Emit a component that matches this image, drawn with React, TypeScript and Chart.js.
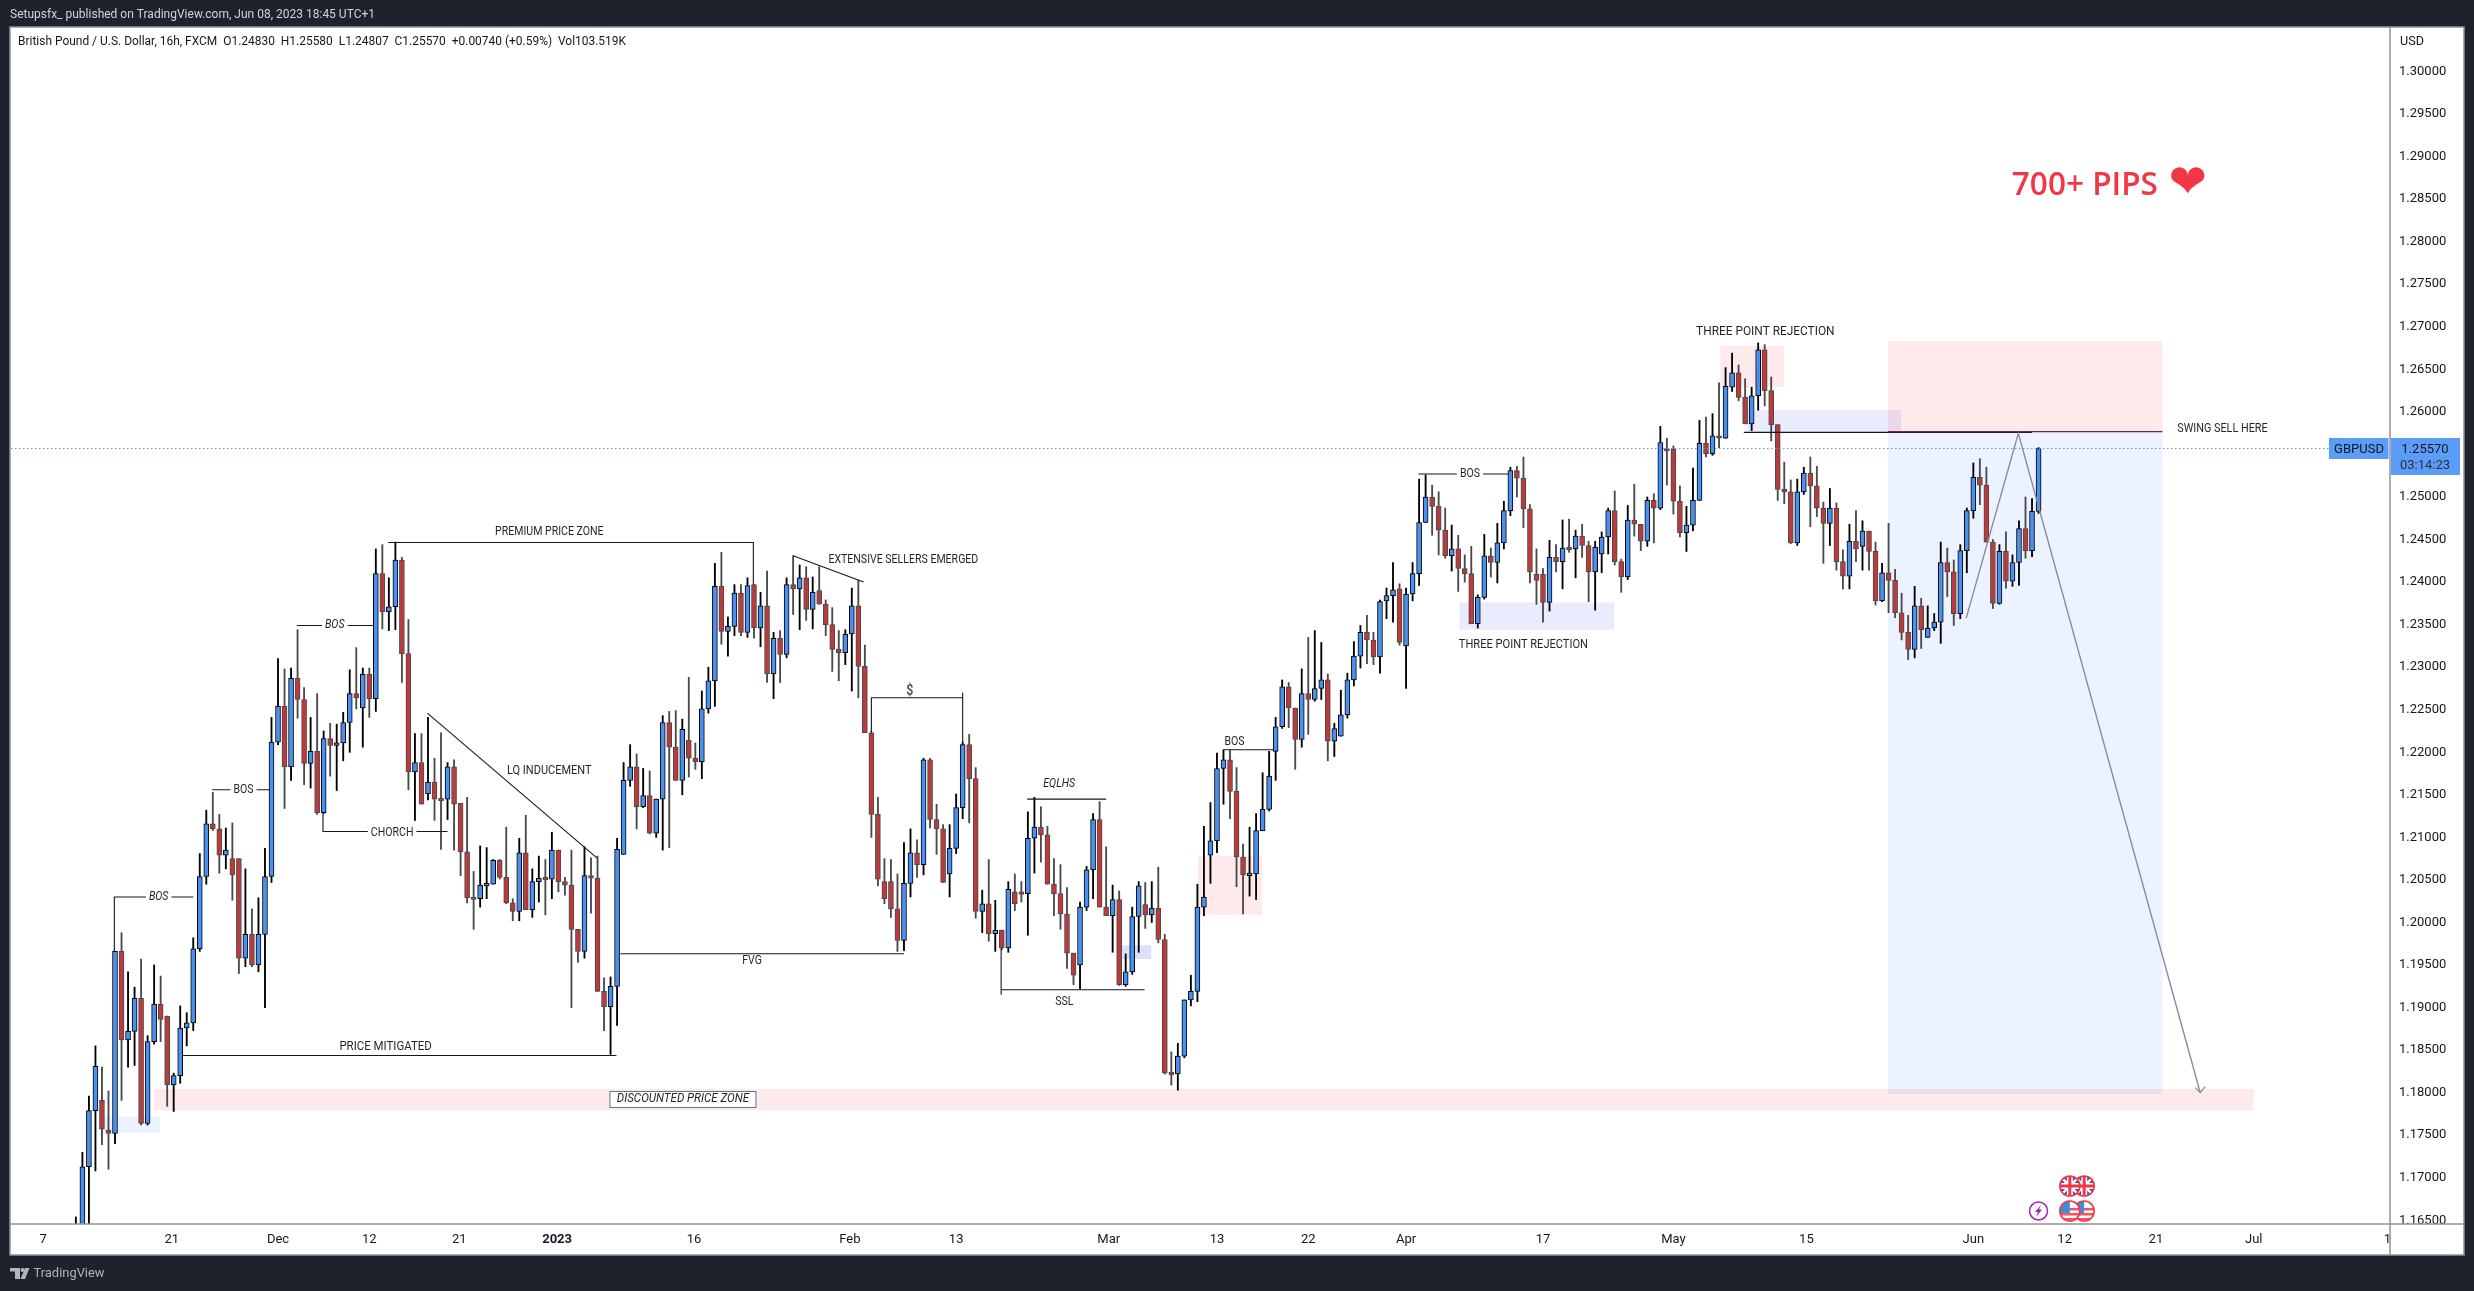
import { useEffect, useRef } from "react";
import Chart from "chart.js/auto";

// 16h GBPUSD candles
const opens = [
  1.1600,1.1640,1.1713,1.1779,1.1791,1.1756,1.1752,1.1966,1.1862,1.1872,
  1.1911,1.1764,1.1860,1.1904,1.1890,1.1809,1.1820,1.1876,1.1882,1.1969,
  1.2054,1.2116,1.2110,1.2079,1.2075,1.2075,1.1958,1.1986,1.1950,1.1986,
  1.2054,1.2212,1.2254,1.2183,1.2287,1.2262,1.2187,1.2201,1.2129,1.2216,
  1.2208,1.2211,1.2235,1.2269,1.2252,1.2292,1.2263,1.2410,1.2365,1.2371,
  1.2426,1.2316,1.2177,1.2188,1.2151,1.2165,1.2146,1.2145,1.2183,1.2140,
  1.2083,1.2030,1.2028,1.2043,1.2045,1.2073,1.2053,1.2023,1.2013,1.2082,
  1.2015,1.2048,1.2053,1.2051,1.2085,1.2048,1.2044,1.1992,1.1966,1.2055,
  1.2052,1.1919,1.1901,1.1925,1.2080,1.2167,1.2183,1.2136,1.2149,1.2105,
  1.2145,1.2235,1.2206,1.2167,1.2214,1.2193,1.2189,1.2251,1.2284,1.2395,
  1.2342,1.2348,1.2387,1.2341,1.2397,1.2346,1.2372,1.2292,1.2334,1.2315,
  1.2397,1.2392,1.2405,1.2368,1.2390,1.2374,1.2350,1.2321,1.2317,1.2339,
  1.2372,1.2301,1.2223,1.2127,1.2048,1.2048,1.2016,1.1979,1.2046,1.2082,
  1.2068,1.2191,1.2121,1.2110,1.2057,1.2087,1.2135,1.2209,1.2169,1.2013,
  1.2022,1.1987,1.1991,1.1970,1.2036,1.2036,1.2034,1.2099,1.2112,1.2103,
  1.2045,1.2034,1.2010,1.1964,1.1950,1.2018,1.2062,1.2121,1.2018,1.2008,
  1.2027,1.1927,1.1942,1.2007,1.2021,1.2009,1.2017,1.1980,1.1824,1.1822,
  1.1843,1.1909,1.1919,1.2018,1.2079,1.2096,1.2181,1.2191,1.2154,1.2077,
  1.2055,1.2057,1.2108,1.2133,1.2201,1.2230,1.2277,1.2252,1.2215,1.2269,
  1.2262,1.2275,1.2285,1.2213,1.2219,1.2244,1.2285,1.2313,1.2341,1.2332,
  1.2312,1.2378,1.2384,1.2392,1.2325,1.2386,1.2410,1.2470,1.2500,1.2489,
  1.2461,1.2431,1.2439,1.2416,1.2410,1.2351,1.2382,1.2431,1.2423,1.2446,
  1.2484,1.2531,1.2522,1.2486,1.2409,1.2409,1.2376,1.2429,1.2424,1.2441,
  1.2439,1.2454,1.2443,1.2412,1.2433,1.2453,1.2484,1.2424,1.2406,1.2473,
  1.2468,1.2448,1.2496,1.2487,1.2557,1.2556,1.2495,1.2458,1.2467,1.2496,
  1.2563,1.2551,1.2572,1.2569,1.2629,1.2646,1.2617,1.2586,1.2619,1.2673,
  1.2625,1.2585,1.2509,1.2506,1.2446,1.2506,1.2528,1.2513,1.2487,1.2469,
  1.2487,1.2424,1.2407,1.2448,1.2442,1.2460,1.2436,1.2378,1.2411,1.2402,
  1.2364,1.2341,1.2321,1.2372,1.2335,1.2346,1.2353,1.2423,1.2412,1.2363,
  1.2437,1.2484,1.2523,1.2514,1.2447,1.2375,1.2436,1.2401,1.2423,1.2463,
  1.2437,1.2483,
];
const closes = [
  1.1640,1.1713,1.1779,1.1831,1.1757,1.1752,1.1966,1.1862,1.1872,1.1911,
  1.1764,1.1860,1.1904,1.1886,1.1809,1.1820,1.1876,1.1882,1.1969,1.2054,
  1.2116,1.2110,1.2079,1.2085,1.2056,1.1958,1.1986,1.1950,1.1986,1.2054,
  1.2212,1.2254,1.2183,1.2287,1.2262,1.2187,1.2201,1.2129,1.2216,1.2208,
  1.2211,1.2235,1.2269,1.2264,1.2292,1.2263,1.2410,1.2365,1.2371,1.2426,
  1.2316,1.2177,1.2188,1.2139,1.2165,1.2145,1.2143,1.2183,1.2139,1.2083,
  1.2029,1.2027,1.2044,1.2046,1.2073,1.2053,1.2023,1.2013,1.2082,1.2015,
  1.2048,1.2052,1.2050,1.2085,1.2048,1.2044,1.1992,1.1966,1.2055,1.2052,
  1.1919,1.1901,1.1925,1.2086,1.2167,1.2183,1.2136,1.2149,1.2105,1.2145,
  1.2235,1.2206,1.2167,1.2227,1.2193,1.2189,1.2251,1.2284,1.2395,1.2342,
  1.2348,1.2387,1.2341,1.2396,1.2346,1.2372,1.2292,1.2334,1.2315,1.2397,
  1.2392,1.2405,1.2368,1.2388,1.2374,1.2350,1.2321,1.2317,1.2339,1.2372,
  1.2301,1.2223,1.2127,1.2051,1.2028,1.2016,1.1979,1.2046,1.2082,1.2068,
  1.2191,1.2121,1.2110,1.2047,1.2087,1.2135,1.2209,1.2169,1.2013,1.2022,
  1.1987,1.1991,1.1970,1.2039,1.2022,1.2033,1.2099,1.2112,1.2103,1.2045,
  1.2034,1.2010,1.1964,1.1938,1.2018,1.2062,1.2121,1.2018,1.2008,1.2027,
  1.1927,1.1942,1.2007,1.2043,1.2009,1.2017,1.1980,1.1823,1.1821,1.1843,
  1.1909,1.1919,1.2018,1.2030,1.2096,1.2181,1.2191,1.2154,1.2077,1.2056,
  1.2058,1.2108,1.2133,1.2172,1.2230,1.2277,1.2252,1.2215,1.2269,1.2262,
  1.2275,1.2285,1.2213,1.2228,1.2244,1.2285,1.2313,1.2341,1.2332,1.2312,
  1.2377,1.2384,1.2391,1.2329,1.2386,1.2410,1.2470,1.2500,1.2489,1.2461,
  1.2431,1.2439,1.2416,1.2410,1.2351,1.2382,1.2431,1.2423,1.2446,1.2484,
  1.2531,1.2522,1.2486,1.2412,1.2402,1.2376,1.2429,1.2424,1.2440,1.2438,
  1.2454,1.2443,1.2412,1.2441,1.2453,1.2484,1.2424,1.2406,1.2473,1.2468,
  1.2448,1.2496,1.2487,1.2564,1.2554,1.2495,1.2458,1.2467,1.2496,1.2563,
  1.2551,1.2572,1.2569,1.2630,1.2646,1.2617,1.2586,1.2619,1.2673,1.2625,
  1.2585,1.2509,1.2506,1.2446,1.2506,1.2528,1.2513,1.2487,1.2469,1.2487,
  1.2424,1.2407,1.2448,1.2439,1.2460,1.2436,1.2378,1.2411,1.2402,1.2364,
  1.2341,1.2321,1.2372,1.2344,1.2346,1.2353,1.2423,1.2412,1.2363,1.2437,
  1.2484,1.2523,1.2514,1.2447,1.2375,1.2436,1.2401,1.2423,1.2463,1.2437,
  1.2483,1.2557,
];
const highs = [
  1.1654,1.1730,1.1796,1.1855,1.1830,1.1802,1.1966,1.1988,1.1942,1.1924,
  1.1957,1.1867,1.1950,1.1937,1.1890,1.1823,1.1902,1.1894,1.1982,1.2081,
  1.2132,1.2153,1.2127,1.2111,1.2117,1.2075,1.2063,1.2016,1.2029,1.2087,
  1.2241,1.2310,1.2298,1.2299,1.2344,1.2276,1.2241,1.2269,1.2225,1.2234,
  1.2233,1.2247,1.2297,1.2323,1.2299,1.2299,1.2439,1.2444,1.2405,1.2447,
  1.2429,1.2356,1.2222,1.2222,1.2241,1.2193,1.2223,1.2188,1.2191,1.2140,
  1.2147,1.2060,1.2090,1.2088,1.2074,1.2074,1.2112,1.2028,1.2099,1.2126,
  1.2063,1.2078,1.2074,1.2106,1.2085,1.2053,1.2085,1.1992,1.2089,1.2076,
  1.2078,1.1935,1.1936,1.2099,1.2188,1.2209,1.2198,1.2181,1.2178,1.2145,
  1.2243,1.2248,1.2249,1.2239,1.2288,1.2211,1.2272,1.2300,1.2422,1.2435,
  1.2359,1.2397,1.2397,1.2405,1.2397,1.2388,1.2413,1.2341,1.2343,1.2405,
  1.2431,1.2420,1.2418,1.2406,1.2418,1.2379,1.2370,1.2343,1.2344,1.2393,
  1.2402,1.2326,1.2225,1.2147,1.2075,1.2074,1.2057,1.2094,1.2110,1.2097,
  1.2193,1.2193,1.2139,1.2115,1.2115,1.2151,1.2212,1.2221,1.2182,1.2038,
  1.2074,1.2026,1.1991,1.2048,1.2057,1.2048,1.2130,1.2147,1.2136,1.2113,
  1.2075,1.2068,1.2041,1.1964,1.2024,1.2066,1.2128,1.2142,1.2089,1.2044,
  1.2037,1.1963,1.2018,1.2048,1.2047,1.2048,1.2065,1.1986,1.1848,1.1858,
  1.1909,1.1938,1.2045,1.2113,1.2141,1.2199,1.2203,1.2203,1.2182,1.2092,
  1.2112,1.2128,1.2176,1.2201,1.2241,1.2285,1.2282,1.2252,1.2298,1.2335,
  1.2343,1.2329,1.2292,1.2234,1.2273,1.2293,1.2330,1.2349,1.2361,1.2341,
  1.2379,1.2393,1.2423,1.2398,1.2393,1.2423,1.2521,1.2526,1.2514,1.2506,
  1.2487,1.2467,1.2455,1.2432,1.2442,1.2385,1.2456,1.2440,1.2469,1.2495,
  1.2535,1.2536,1.2547,1.2491,1.2439,1.2416,1.2449,1.2444,1.2473,1.2474,
  1.2461,1.2468,1.2448,1.2448,1.2459,1.2487,1.2507,1.2427,1.2490,1.2515,
  1.2468,1.2500,1.2504,1.2583,1.2569,1.2560,1.2513,1.2489,1.2534,1.2590,
  1.2594,1.2598,1.2634,1.2652,1.2669,1.2655,1.2639,1.2629,1.2681,1.2679,
  1.2641,1.2585,1.2541,1.2520,1.2521,1.2535,1.2547,1.2536,1.2494,1.2510,
  1.2493,1.2438,1.2468,1.2484,1.2472,1.2460,1.2447,1.2422,1.2469,1.2415,
  1.2387,1.2361,1.2395,1.2381,1.2372,1.2363,1.2447,1.2440,1.2426,1.2444,
  1.2487,1.2540,1.2545,1.2535,1.2450,1.2444,1.2459,1.2432,1.2472,1.2500,
  1.2498,1.2558,
];
const lows = [
  1.1580,1.1630,1.1645,1.1708,1.1739,1.1710,1.1740,1.1791,1.1830,1.1832,
  1.1762,1.1762,1.1857,1.1860,1.1784,1.1778,1.1811,1.1855,1.1873,1.1966,
  1.2045,1.2108,1.2058,1.2063,1.2026,1.1940,1.1948,1.1948,1.1942,1.1900,
  1.2047,1.2209,1.2134,1.2167,1.2240,1.2162,1.2158,1.2127,1.2128,1.2172,
  1.2155,1.2190,1.2200,1.2251,1.2206,1.2241,1.2248,1.2345,1.2343,1.2344,
  1.2282,1.2156,1.2120,1.2139,1.2144,1.2120,1.2086,1.2121,1.2085,1.2055,
  1.2023,1.1992,1.2018,1.2028,1.2045,1.2051,1.2022,1.2002,1.2002,1.2015,
  1.2006,1.2024,1.2009,1.2028,1.2036,1.2032,1.1900,1.1953,1.1958,1.2011,
  1.1919,1.1873,1.1845,1.1879,1.2080,1.2160,1.2110,1.2135,1.2104,1.2100,
  1.2085,1.2088,1.2167,1.2150,1.2171,1.2180,1.2169,1.2246,1.2254,1.2327,
  1.2313,1.2337,1.2337,1.2335,1.2334,1.2324,1.2282,1.2263,1.2282,1.2311,
  1.2362,1.2344,1.2355,1.2345,1.2374,1.2337,1.2295,1.2284,1.2303,1.2272,
  1.2264,1.2223,1.2100,1.2043,1.2022,1.2006,1.1966,1.1967,1.2030,1.2053,
  1.2056,1.2111,1.2080,1.2047,1.2030,1.2081,1.2122,1.2117,1.2005,1.1988,
  1.1978,1.1966,1.1968,1.1965,1.2014,1.2024,1.1985,1.2058,1.2071,1.2045,
  1.2008,1.1992,1.1946,1.1927,1.1922,1.2014,1.2028,1.2018,1.2008,1.1965,
  1.1926,1.1925,1.1939,1.1965,1.1993,1.2000,1.1976,1.1822,1.1809,1.1803,
  1.1841,1.1902,1.1907,1.2008,1.2046,1.2082,1.2139,1.2122,1.2042,1.2010,
  1.2031,1.2027,1.2108,1.2131,1.2167,1.2228,1.2229,1.2180,1.2206,1.2221,
  1.2260,1.2262,1.2190,1.2195,1.2219,1.2240,1.2278,1.2299,1.2304,1.2303,
  1.2293,1.2357,1.2353,1.2326,1.2275,1.2378,1.2396,1.2470,1.2455,1.2432,
  1.2428,1.2413,1.2389,1.2400,1.2351,1.2346,1.2380,1.2406,1.2399,1.2439,
  1.2478,1.2500,1.2464,1.2399,1.2374,1.2353,1.2366,1.2412,1.2392,1.2435,
  1.2405,1.2429,1.2377,1.2367,1.2411,1.2433,1.2420,1.2388,1.2403,1.2454,
  1.2437,1.2442,1.2446,1.2485,1.2514,1.2480,1.2453,1.2436,1.2460,1.2496,
  1.2547,1.2549,1.2558,1.2569,1.2624,1.2613,1.2586,1.2578,1.2602,1.2607,
  1.2566,1.2496,1.2492,1.2445,1.2443,1.2503,1.2465,1.2477,1.2422,1.2443,
  1.2414,1.2392,1.2392,1.2424,1.2414,1.2414,1.2373,1.2377,1.2364,1.2358,
  1.2332,1.2309,1.2311,1.2322,1.2335,1.2343,1.2328,1.2383,1.2349,1.2357,
  1.2411,1.2475,1.2491,1.2447,1.2369,1.2374,1.2393,1.2395,1.2396,1.2428,
  1.2430,1.24807,
];

const xTickBars = [-5, 14.7, 31, 45, 58.8, 73.8, 94.8, 118.7, 135, 158.4, 175, 189, 204, 225, 245, 265.4, 291, 305, 319, 334, 354.5];
const xTickLabels = ["7", "21", "Dec", "12", "21", "2023", "16", "Feb", "13", "Mar", "13", "22", "Apr", "17", "May", "15", "Jun", "12", "21", "Jul", "1"];
const yTickPrices = [
  1.165, 1.17, 1.175, 1.18, 1.185, 1.19, 1.195, 1.2, 1.205, 1.21, 1.215, 1.22, 1.225, 1.23,
  1.235, 1.24, 1.245, 1.25, 1.255, 1.26, 1.265, 1.27, 1.275, 1.28, 1.285, 1.29, 1.295, 1.3,
];
const lastPrice = 1.2557;

const PINK = "rgba(242,54,69,0.11)";
const PALE_BLUE = "rgba(33,100,250,0.085)";
const MID_BLUE = "rgba(33,70,240,0.1)";

// drawings, in bar number / price
const zones = [
  { from: 12, to: 334, top: 1.18044, bottom: 1.1779, fill: PINK },
  { from: 4, to: 12.9, top: 1.1772, bottom: 1.1753, fill: PALE_BLUE },
  { from: 172.1, to: 181.9, top: 1.2078, bottom: 1.2009, fill: PINK },
  { from: 160.3, to: 164.9, top: 1.1973, bottom: 1.1957, fill: "rgba(33,70,220,0.16)" },
  { from: 212.2, to: 235.9, top: 1.2376, bottom: 1.2344, fill: MID_BLUE },
  { from: 252.2, to: 262, top: 1.26774, bottom: 1.26292, fill: PINK },
  { from: 256.2, to: 279.9, top: 1.26022, bottom: 1.25756, fill: MID_BLUE },
  { from: 277.9, to: 320, top: 1.26833, bottom: 1.25767, fill: PINK },
  { from: 277.9, to: 320, top: 1.25767, bottom: 1.17985, fill: PALE_BLUE },
];
const blackLines = [
  [[5.9, 1.1966], [5.9, 1.203], [18, 1.203]],
  [[20.9, 1.2156], [29.7, 1.2156]],
  [[33.9, 1.2349], [45.7, 1.2349]],
  [[37.9, 1.2129], [37.9, 1.2107], [57, 1.2107]],
  [[53.9, 1.2246], [79.9, 1.2076]],
  [[16.4, 1.18437], [82.9, 1.18437]],
  [[47.9, 1.24466], [103.9, 1.24466], [103.9, 1.2397]],
  [[110, 1.2431], [120.8, 1.24]],
  [[122, 1.2223], [122, 1.2264], [136, 1.2264]],
  [[136, 1.227], [136, 1.2209]],
  [[83.5, 1.19632], [127, 1.19632]],
  [[145.9, 1.2145], [158, 1.2145]],
  [[141.9, 1.197], [141.9, 1.1915]],
  [[141.9, 1.1921], [163.9, 1.1921]],
  [[176, 1.2203], [183.7, 1.2203]],
  [[205.9, 1.2527], [219.7, 1.2527]],
  [[255.8, 1.25759], [300, 1.25759]],
];
const entryLine = [[277.9, 1.25767], [320, 1.25767]];
const projection = [[289.9, 1.23574], [297.9, 1.25748], [325.8, 1.18]];
const notes = [
  { text: "BOS", bar: 12.7, price: 1.203, italic: true, gap: true },
  { text: "BOS", bar: 25.7, price: 1.2156, gap: true },
  { text: "BOS", bar: 39.7, price: 1.2349, italic: true, gap: true },
  { text: "CHORCH", bar: 48.5, price: 1.2105, gap: true },
  { text: "LQ INDUCEMENT", bar: 72.6, price: 1.2178, size: 12.5 },
  { text: "PRICE MITIGATED", bar: 47.5, price: 1.1854, size: 13 },
  { text: "PREMIUM PRICE ZONE", bar: 72.6, price: 1.2459 },
  { text: "EXTENSIVE SELLERS EMERGED", bar: 126.9, price: 1.2426 },
  { text: "$", bar: 127.9, price: 1.2272, size: 14, bold: true },
  { text: "FVG", bar: 103.7, price: 1.1955 },
  { text: "EQLHS", bar: 150.8, price: 1.2163, italic: true },
  { text: "SSL", bar: 151.6, price: 1.1906 },
  { text: "BOS", bar: 177.7, price: 1.2212 },
  { text: "BOS", bar: 213.8, price: 1.2527, gap: true },
  { text: "THREE POINT REJECTION", bar: 222, price: 1.2326, size: 12.6 },
  { text: "THREE POINT REJECTION", bar: 259.1, price: 1.2694, size: 13.5 },
  { text: "SWING SELL HERE", bar: 329.2, price: 1.25799, size: 12.3 },
];

function squeezed(ctx: CanvasRenderingContext2D, text: string, x: number, y: number, factor = 0.88) {
  ctx.fillText(text, x, y, ctx.measureText(text).width * factor);
}

function drawFlag(ctx: CanvasRenderingContext2D, cx: number, cy: number, kind: "uk" | "us") {
  const r = 10;
  ctx.save();
  ctx.beginPath();
  ctx.arc(cx, cy, r, 0, Math.PI * 2);
  ctx.fillStyle = "#ffffff";
  ctx.fill();
  ctx.save();
  ctx.clip();
  if (kind === "uk") {
    ctx.fillStyle = "#2457b3";
    ctx.fillRect(cx - r, cy - r, r * 2, r * 2);
    ctx.strokeStyle = "#ffffff";
    ctx.lineWidth = 2.5;
    ctx.beginPath();
    ctx.moveTo(cx - r, cy - r);
    ctx.lineTo(cx + r, cy + r);
    ctx.moveTo(cx + r, cy - r);
    ctx.lineTo(cx - r, cy + r);
    ctx.stroke();
    ctx.fillStyle = "#ffffff";
    ctx.fillRect(cx - r, cy - 3, r * 2, 6);
    ctx.fillRect(cx - 3, cy - r, 6, r * 2);
    ctx.fillStyle = "#f23645";
    ctx.fillRect(cx - r, cy - 1.5, r * 2, 3);
    ctx.fillRect(cx - 1.5, cy - r, 3, r * 2);
  } else {
    ctx.fillStyle = "#f7525f";
    for (let i = 0; i < 3; i++) ctx.fillRect(cx - r, cy - 3 + i * 5, r * 2, 2.5);
    ctx.fillStyle = "#3d8fe0";
    ctx.fillRect(cx - r, cy - r, r, r + 2);
  }
  ctx.restore();
  ctx.beginPath();
  ctx.arc(cx, cy, r, 0, Math.PI * 2);
  ctx.strokeStyle = "#f23645";
  ctx.lineWidth = 1.6;
  ctx.stroke();
  ctx.restore();
}

const tvDrawings = {
  id: "tvDrawings",
  beforeDraw(chart: any) {
    const { ctx, width, height } = chart;
    ctx.save();
    ctx.fillStyle = "#1e222d";
    ctx.fillRect(0, 0, width, height);
    ctx.fillStyle = "#ffffff";
    ctx.fillRect(10, 27, 2454, 1228);
    ctx.restore();
  },
  beforeDatasetsDraw(chart: any) {
    const { ctx, chartArea: a, scales } = chart;
    ctx.save();
    ctx.beginPath();
    ctx.rect(a.left, a.top, a.right - a.left, a.bottom - a.top);
    ctx.clip();
    for (const z of zones) {
      const x0 = scales.x.getPixelForValue(z.from);
      const x1 = scales.x.getPixelForValue(z.to);
      const y0 = scales.y.getPixelForValue(z.top);
      const y1 = scales.y.getPixelForValue(z.bottom);
      ctx.fillStyle = z.fill;
      ctx.fillRect(x0, y0, x1 - x0, y1 - y0);
    }
    ctx.restore();
  },
  afterDatasetsDraw(chart: any) {
    const { ctx, chartArea: a, scales } = chart;
    const px = (p: number[]) => [scales.x.getPixelForValue(p[0]), scales.y.getPixelForValue(p[1])];
    const stroke = (pts: number[][], color: string, w: number) => {
      ctx.strokeStyle = color;
      ctx.lineWidth = w;
      ctx.beginPath();
      pts.forEach((p, i) => {
        const [x, y] = px(p);
        if (i === 0) ctx.moveTo(x, y);
        else ctx.lineTo(x, y);
      });
      ctx.stroke();
    };
    ctx.save();
    blackLines.forEach((l) => stroke(l, "#131722", 1.1));
    stroke(entryLine, "#7a1f4d", 1.2);

    // the short idea: zig up to the entry and down to target, with an arrow head
    stroke(projection, "#8a8d96", 1.4);
    const [ex, ey] = px(projection[2]);
    ctx.strokeStyle = "#8a8d96";
    ctx.lineWidth = 1.2;
    ctx.beginPath();
    ctx.moveTo(ex - 5, ey - 5);
    ctx.lineTo(ex, ey);
    ctx.lineTo(ex + 5, ey - 6);
    ctx.stroke();

    // last price line
    const ly = scales.y.getPixelForValue(lastPrice);
    ctx.strokeStyle = "#5b9cf6";
    ctx.lineWidth = 1;
    ctx.setLineDash([1.5, 2.5]);
    ctx.beginPath();
    ctx.moveTo(a.left, ly);
    ctx.lineTo(a.right, ly);
    ctx.stroke();
    ctx.setLineDash([]);

    // text notes
    ctx.textBaseline = "middle";
    ctx.textAlign = "center";
    for (const n of notes) {
      const size = n.size ?? 12;
      ctx.font = `${n.italic ? "italic " : ""}${n.bold ? "bold " : ""}${size}px Roboto`;
      const [x, y] = px([n.bar, n.price]);
      if (n.gap) {
        const w = ctx.measureText(n.text).width * 0.88 + 6;
        ctx.fillStyle = "#ffffff";
        ctx.fillRect(x - w / 2, y - 7, w, 14);
      }
      ctx.fillStyle = n.bold ? "#50535e" : "#1f2329";
      squeezed(ctx, n.text, x, y);
    }

    // boxed label on the discount zone
    const [bx, by] = px([93.1, 1.1792]);
    ctx.fillStyle = "#ffffff";
    ctx.fillRect(bx - 73, by - 8, 146, 16);
    ctx.strokeStyle = "#5f7484";
    ctx.lineWidth = 1;
    ctx.strokeRect(bx - 73, by - 8, 146, 16);
    ctx.fillStyle = "#1f2329";
    ctx.font = "italic 12px Roboto";
    squeezed(ctx, "DISCOUNTED PRICE ZONE", bx, by, 0.96);

    // big red note
    const [rx, ry] = px([308.1, 1.2865]);
    ctx.fillStyle = "#f23645";
    ctx.textAlign = "center";
    ctx.font = "600 32px 'Open Sans'";
    ctx.fillText("700+ PIPS", rx, ry, 146);
    ctx.font = "46px 'DejaVu Sans'";
    ctx.fillText("\u2764", rx + 103, ry - 1, 38);

    // event marks under the last bars
    const markY = a.bottom - 13;
    const boltX = scales.x.getPixelForValue(301);
    ctx.beginPath();
    ctx.arc(boltX, markY, 9, 0, Math.PI * 2);
    ctx.fillStyle = "#ffffff";
    ctx.fill();
    ctx.strokeStyle = "#9c27b0";
    ctx.lineWidth = 1.5;
    ctx.stroke();
    ctx.fillStyle = "#9c27b0";
    ctx.beginPath();
    ctx.moveTo(boltX + 2.5, markY - 6);
    ctx.lineTo(boltX - 3.5, markY + 1);
    ctx.lineTo(boltX - 0.5, markY + 1);
    ctx.lineTo(boltX - 2.5, markY + 6);
    ctx.lineTo(boltX + 3.5, markY - 1.5);
    ctx.lineTo(boltX + 0.5, markY - 1.5);
    ctx.closePath();
    ctx.fill();
    drawFlag(ctx, scales.x.getPixelForValue(308), a.bottom - 38, "uk");
    drawFlag(ctx, scales.x.getPixelForValue(305.8), a.bottom - 38, "uk");
    drawFlag(ctx, scales.x.getPixelForValue(308), markY, "us");
    drawFlag(ctx, scales.x.getPixelForValue(305.8), markY, "us");
    ctx.restore();
  },
  afterDraw(chart: any) {
    const { ctx, chartArea: a, scales } = chart;
    const ly = scales.y.getPixelForValue(lastPrice);
    ctx.save();
    // cover anything that ran below the time axis, as the 1.16500 label does in the original
    ctx.fillStyle = "#ffffff";
    ctx.fillRect(a.right, a.bottom, 2464 - a.right, 1255 - a.bottom);

    // frame and axis rules
    ctx.strokeStyle = "#8f929b";
    ctx.lineWidth = 1.5;
    ctx.strokeRect(10, 27, 2454, 1228);
    ctx.beginPath();
    ctx.moveTo(a.right, 27);
    ctx.lineTo(a.right, 1255);
    ctx.moveTo(10, a.bottom);
    ctx.lineTo(2464, a.bottom);
    ctx.stroke();

    // price flags
    ctx.fillStyle = "#5b9cf6";
    ctx.fillRect(2329, ly - 10.5, 59.5, 21);
    ctx.fillRect(a.right + 1, ly - 10.5, 69, 37);
    ctx.fillStyle = "#131722";
    ctx.textBaseline = "middle";
    ctx.textAlign = "center";
    ctx.font = "13px Roboto";
    ctx.fillText("GBPUSD", 2359, ly + 1, 50);
    ctx.fillText("1.25570", 2425, ly + 1, 49);
    ctx.fillStyle = "#2a3040";
    ctx.fillText("03:14:23", 2425, ly + 17, 54);
    ctx.textAlign = "left";
    ctx.fillStyle = "#131722";
    ctx.fillText("USD", 2400, 42, 24);

    // header lines
    ctx.font = "12.5px Roboto";
    ctx.fillStyle = "#131722";
    ctx.fillText("British Pound / U.S. Dollar, 16h, FXCM  O1.24830  H1.25580  L1.24807  C1.25570  +0.00740 (+0.59%)  Vol103.519K", 18, 42, 608);
    ctx.fillStyle = "#d1d4dc";
    ctx.fillText("Setupsfx_ published on TradingView.com, Jun 08, 2023 18:45 UTC+1", 10, 15, 365);

    // footer logo
    ctx.fillStyle = "#b2b5be";
    ctx.fillRect(10, 1268, 10, 3.5);
    ctx.fillRect(15, 1268, 5, 11);
    ctx.beginPath();
    ctx.arc(22.5, 1270, 2, 0, Math.PI * 2);
    ctx.fill();
    ctx.beginPath();
    ctx.moveTo(25, 1268);
    ctx.lineTo(29.5, 1268);
    ctx.lineTo(25, 1279);
    ctx.lineTo(20.5, 1279);
    ctx.closePath();
    ctx.fill();
    ctx.font = "13.5px Roboto";
    ctx.fillText("TradingView", 33.5, 1274, 71);
    ctx.restore();
  },
};

export default function App() {
  const canvasRef = useRef<HTMLCanvasElement | null>(null);

  useEffect(() => {
    document.body.style.margin = "0";
    document.body.style.background = "#1e222d";
    if (!canvasRef.current) return;

    const chart = new Chart(canvasRef.current, {
      type: "bar",
      data: {
        datasets: [
          {
            label: "Body",
            data: opens.map((o, i) => ({ x: i, y: [o, closes[i]] })),
            backgroundColor: opens.map((o, i) => (closes[i] >= o ? "#4a90ee" : "#b93b3b")),
            borderColor: opens.map((o, i) => (closes[i] >= o ? "#000000" : "#4a4a4a")),
            borderWidth: 1,
            borderSkipped: false,
            barThickness: 5,
          },
          {
            label: "Wick",
            data: lows.map((l, i) => ({ x: i, y: [l, highs[i]] })),
            backgroundColor: opens.map((o, i) => (closes[i] >= o ? "#000000" : "#4a4a4a")),
            barThickness: 1.2,
          },
        ] as any,
      },
      options: {
        animation: false,
        responsive: false,
        devicePixelRatio: 1,
        layout: { padding: { left: 11, top: 28, right: 10, bottom: 36 } },
        plugins: { legend: { display: false }, tooltip: { enabled: false } },
        datasets: { bar: { grouped: false } },
        scales: {
          x: {
            type: "linear",
            min: -9.95,
            max: 354.9,
            offset: false,
            grid: { display: false, drawTicks: false },
            border: { display: false },
            afterFit: (s: any) => {
              s.height = 31;
            },
            afterBuildTicks: (s: any) => {
              s.ticks = xTickBars.map((value) => ({ value }));
            },
            ticks: {
              autoSkip: false,
              maxRotation: 0,
              padding: 8,
              color: "#131722",
              font: (c: any) => ({ family: "Roboto", size: 13, weight: c.index === 5 ? "bold" : "normal" }),
              callback: (_v: any, i: number) => xTickLabels[i],
            },
          },
          y: {
            type: "linear",
            position: "right",
            min: 1.16457,
            max: 1.30511,
            grid: { display: false, drawTicks: false },
            border: { display: false },
            afterFit: (s: any) => {
              s.width = 74;
            },
            afterBuildTicks: (s: any) => {
              s.ticks = yTickPrices.map((value) => ({ value }));
            },
            ticks: {
              autoSkip: false,
              padding: 9,
              color: "#131722",
              font: { family: "Roboto", size: 13 },
              callback: (v: any) => Number(v).toFixed(5),
            },
          },
        },
      } as any,
      plugins: [tvDrawings],
    });

    return () => chart.destroy();
  }, []);

  return <canvas ref={canvasRef} width={2474} height={1291} style={{ display: "block" }} />;
}
